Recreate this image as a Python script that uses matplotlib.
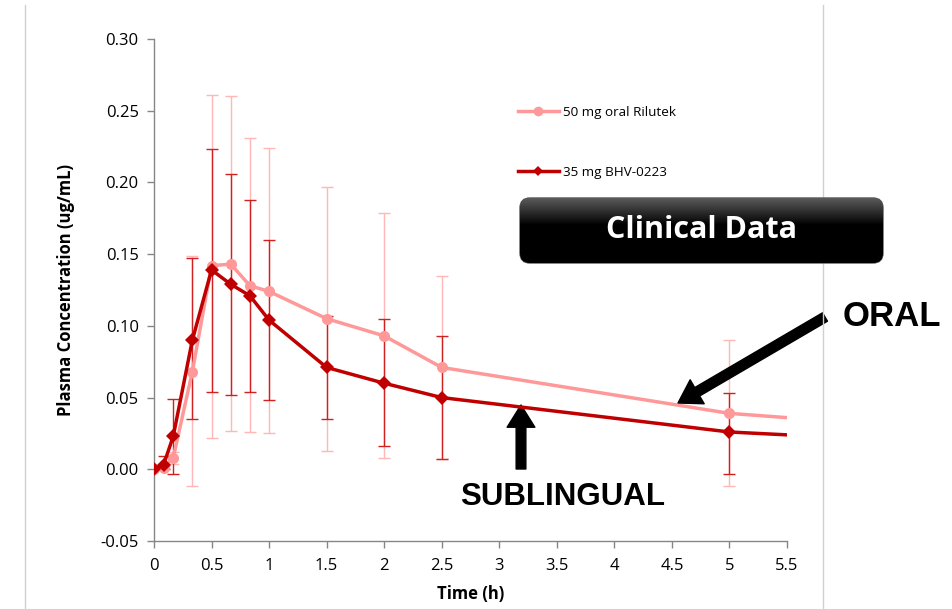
import numpy as np
import matplotlib
matplotlib.use('Agg')
import matplotlib.pyplot as plt
from matplotlib.patches import FancyBboxPatch
from matplotlib.lines import Line2D

# Данные (время в часах, концентрация в ug/mL)
time_h = [0, 0.083, 0.167, 0.333, 0.5, 0.667, 0.833, 1, 1.5, 2, 2.5, 5, 6]

oral_mean = [0, 0.001, 0.008, 0.068, 0.142, 0.143, 0.128, 0.124, 0.105, 0.093, 0.071, 0.039, 0.033]
oral_upper = [0, 0.002, 0.012, 0.149, 0.261, 0.260, 0.231, 0.224, 0.197, 0.179, 0.135, 0.090, 0.033]
oral_lower = [0, 0.000, 0.004, -0.012, 0.022, 0.027, 0.026, 0.025, 0.013, 0.008, 0.007, -0.012, 0.033]

bhv_mean = [0, 0.003, 0.023, 0.090, 0.139, 0.129, 0.121, 0.104, 0.071, 0.060, 0.050, 0.026, 0.022]
bhv_upper = [0, 0.009, 0.049, 0.147, 0.223, 0.206, 0.188, 0.160, 0.107, 0.105, 0.093, 0.053, 0.022]
bhv_lower = [0, 0.000, -0.003, 0.035, 0.054, 0.052, 0.054, 0.048, 0.035, 0.016, 0.007, -0.003, 0.022]

labels = ['50 mg oral Rilutek', '35 mg BHV-0223']
x_ticks = ['0', '0.5', '1', '1.5', '2', '2.5', '3', '3.5', '4', '4.5', '5', '5.5']

oral_color = '#FF9999'
oral_err_color = '#FFB7B7'
bhv_color = '#C00000'
bhv_err_color = '#D02020'

fig = plt.figure(figsize=(9.53, 6.09), dpi=100)
ax = fig.add_axes([154/953, 1-541/609, (787-154)/953, (541-39)/609])

oral_mean = np.array(oral_mean)
bhv_mean = np.array(bhv_mean)
oral_err = [oral_mean - np.array(oral_lower), np.array(oral_upper) - oral_mean]
bhv_err = [bhv_mean - np.array(bhv_lower), np.array(bhv_upper) - bhv_mean]

# Усы погрешностей
ax.errorbar(time_h, oral_mean, yerr=oral_err, fmt='none', ecolor=oral_err_color,
            elinewidth=1, capsize=4, capthick=1, zorder=2)
ax.errorbar(time_h, bhv_mean, yerr=bhv_err, fmt='none', ecolor=bhv_err_color,
            elinewidth=1, capsize=4, capthick=1, zorder=2)

# Линии
ax.plot(time_h, oral_mean, color=oral_color, lw=2.5, marker='o', ms=8,
        markeredgewidth=0, zorder=3)
ax.plot(time_h, bhv_mean, color=bhv_color, lw=2.5, marker='D', ms=7,
        markeredgewidth=0, zorder=4)

ax.set_xlim(0, 5.5)
ax.set_ylim(-0.05, 0.30)
ax.set_xticks(np.arange(0, 5.51, 0.5))
ax.set_xticklabels(x_ticks)
ax.set_yticks(np.arange(-0.05, 0.301, 0.05))
ax.set_yticklabels(['%.2f' % v for v in np.arange(-0.05, 0.301, 0.05)])

for s in ['top', 'right']:
    ax.spines[s].set_visible(False)
for s in ['left', 'bottom']:
    ax.spines[s].set_color('#868686')
    ax.spines[s].set_linewidth(1)
ax.tick_params(colors='#868686', labelcolor='black', labelsize=12, length=5, width=1, direction='out')
for t in ax.get_xticklabels() + ax.get_yticklabels():
    t.set_family('Open Sans')
ax.tick_params(axis='x', pad=7)
ax.tick_params(axis='y', pad=6)

ax.set_xlabel('Time (h)', fontsize=12, fontweight='bold', family='Open Sans', labelpad=8)
ax.set_ylabel('Plasma Concentration (ug/mL)', fontsize=12, fontweight='bold', family='Open Sans', labelpad=18)

# Легенда
handles = [Line2D([], [], color=oral_color, lw=2.5, marker='o', ms=7, markeredgewidth=0),
           Line2D([], [], color=bhv_color, lw=2.5, marker='D', ms=5, markeredgewidth=0)]
ax.legend(handles, labels, loc='upper left', bbox_to_anchor=(506/953, 1-94/609),
          bbox_transform=fig.transFigure, frameon=False, prop={'family': 'Open Sans', 'size': 9.7},
          labelspacing=3.45, handlelength=3.0, handletextpad=0.3)

# Плашка "Clinical Data" с градиентом
box = FancyBboxPatch((5.25, (609-258)/100), 3.53, 0.55,
                     boxstyle='round,pad=0.05,rounding_size=0.1',
                     transform=fig.dpi_scale_trans, facecolor='black',
                     edgecolor='#555555', lw=1, zorder=4)
fig.patches.append(box)
gax = fig.add_axes([518/953, 1-265/609, 367/953, 69/609], zorder=6)
gax.axis('off')
grad = np.concatenate([np.linspace(0.38, 0.0, 30), np.zeros(40)])[:, None]
img = gax.imshow(grad, cmap='gray', vmin=0, vmax=1, aspect='auto', extent=(0, 1, 0, 1))
img.set_clip_path(box)
gax.text(0.5, 0.5, 'Clinical Data', color='white', fontsize=22, fontweight='bold',
         family='Open Sans', ha='center', va='center', transform=gax.transAxes)

# Подписи и стрелки
fig.text(843/953, 1-316/609, 'ORAL', fontsize=25, fontweight='bold', family='Liberation Sans',
         ha='left', va='center')
fig.text(563/953, 1-497/609, 'SUBLINGUAL', fontsize=22.5, fontweight='bold', family='Liberation Sans',
         ha='center', va='center')

arrow_kw = dict(arrowstyle='simple,head_width=1.0,head_length=0.8,tail_width=0.35',
                mutation_scale=20, color='black', shrinkA=0, shrinkB=0)
ax.annotate('', xy=(678/953, 1-403/609), xycoords='figure fraction',
            xytext=(825/953, 1-317/609), textcoords='figure fraction', arrowprops=arrow_kw)
ax.annotate('', xy=(521/953, 1-405/609), xycoords='figure fraction',
            xytext=(521/953, 1-469/609), textcoords='figure fraction', arrowprops=arrow_kw)

# Рамка слайда
fig.add_artist(Line2D([25/953, 25/953], [0, 1-5/609], transform=fig.transFigure, color='#D0D0D0', lw=1))
fig.add_artist(Line2D([823/953, 823/953], [0, 1-5/609], transform=fig.transFigure, color='#D0D0D0', lw=1))

fig.savefig('out.png', dpi=100)
